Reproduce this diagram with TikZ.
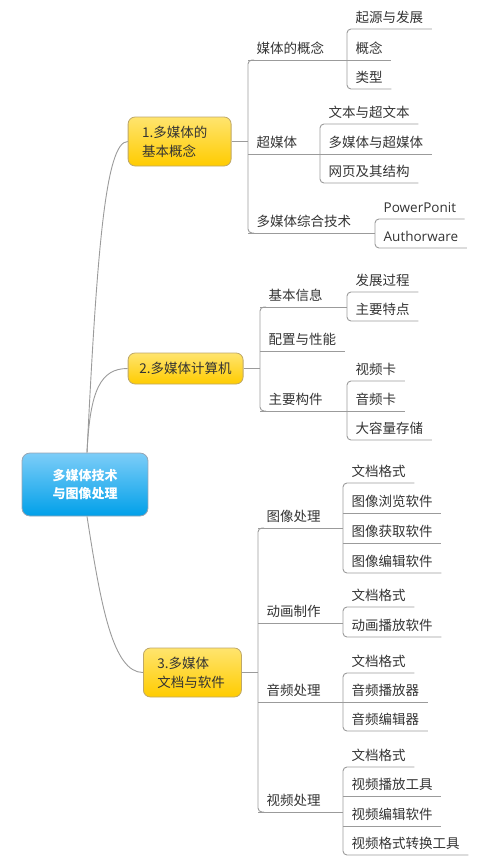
\documentclass[tikz,border=0pt]{standalone}
\usepackage{fontspec}
\setmainfont{Noto Sans CJK SC}
\newfontfamily\latinfont{Open Sans}
\usepackage{xcolor}
\usepackage{tikz}
\usetikzlibrary{positioning, calc}
\definecolor{roottop}{RGB}{125, 205, 248}
\definecolor{rootbot}{RGB}{0, 160, 233}
\definecolor{rootborder}{RGB}{150, 165, 180}
\definecolor{topictop}{RGB}{255, 228, 110}
\definecolor{topicbot}{RGB}{255, 204, 0}
\definecolor{topicborder}{RGB}{190, 168, 105}
\definecolor{textgray}{RGB}{51, 51, 51}
\definecolor{linegray}{RGB}{155, 155, 155}
\tikzset{
  rootblock/.style={
    rectangle, rounded corners=8pt, draw=rootborder, line width=0.8pt,
    top color=roottop, bottom color=rootbot, text=white,
    font=\fontsize{13}{17.5}\selectfont\bfseries, align=center,
    minimum width=126pt, minimum height=63pt
  },
  topicblock/.style={
    rectangle, rounded corners=7pt, draw=topicborder, line width=0.8pt,
    top color=topictop, bottom color=topicbot, text=textgray,
    font=\fontsize{13.5}{19}\selectfont, anchor=west,
    inner xsep=14pt, align=left, minimum height=49pt
  },
  subitem/.style={
    anchor=south west, inner xsep=8.5pt, inner ysep=3pt,
    text height=10pt, text depth=3pt, text=textgray,
    font=\fontsize{13.5}{16}\selectfont
  },
  branchline/.style={draw=linegray, line width=0.9pt},
  bracketline/.style={branchline, rounded corners=4pt}
}

\begin{document}
\begin{tikzpicture}[x=1pt, y=-1pt]

  \useasboundingbox (0,0) rectangle (485,868);

  % Central topic
  \node[rootblock] (root) at (85,484.5) {多媒体技术\\与图像处理};

  % Main topics
  \node[topicblock, text width=75pt] (t1) at (127.7,141.5) {1.多媒体的\\基本概念};
  \node[topicblock, text width=94pt, inner xsep=10.5pt, align=center, minimum height=31pt] (t2) at (127.7,368.5) {2.多媒体计算机};
  \node[topicblock, text width=70pt] (t3) at (143,672.5) {3.多媒体\\文档与软件};

  % Topic 1 branches
  \node[subitem] (m11) at (248,60) {媒体的概念};
  \node[subitem] (l111) at (347,29) {起源与发展};
  \node[subitem] (l112) at (347,60) {概念};
  \node[subitem] (l113) at (347,89) {类型};
  \node[subitem] (m12) at (248,154) {超媒体};
  \node[subitem] (l121) at (320,124) {文本与超文本};
  \node[subitem] (l122) at (320,154) {多媒体与超媒体};
  \node[subitem] (l123) at (320,183) {网页及其结构};
  \node[subitem] (m13) at (248,233) {多媒体综合技术};
  \node[subitem] (l131) at (375,219) {\latinfont PowerPonit};
  \node[subitem] (l132) at (375,248) {\latinfont Authorware};

  % Topic 2 branches
  \node[subitem] (m21) at (260,307) {基本信息};
  \node[subitem] (l211) at (347,292) {发展过程};
  \node[subitem] (l212) at (347,321) {主要特点};
  \node[subitem] (m22) at (260,351) {配置与性能};
  \node[subitem] (m23) at (260,411) {主要构件};
  \node[subitem] (l231) at (347,381) {视频卡};
  \node[subitem] (l232) at (347,411) {音频卡};
  \node[subitem] (l233) at (347,440) {大容量存储};

  % Topic 3 branches
  \node[subitem] (m31) at (258,528) {图像处理};
  \node[subitem] (l311) at (343,483) {文档格式};
  \node[subitem] (l312) at (343,513) {图像浏览软件};
  \node[subitem] (l313) at (343,543) {图像获取软件};
  \node[subitem] (l314) at (343,573) {图像编辑软件};
  \node[subitem] (m32) at (258,623) {动画制作};
  \node[subitem] (l321) at (343,607) {文档格式};
  \node[subitem] (l322) at (343,637) {动画播放软件};
  \node[subitem] (m33) at (258,702) {音频处理};
  \node[subitem] (l331) at (343,673) {文档格式};
  \node[subitem] (l332) at (343,702) {音频播放器};
  \node[subitem] (l333) at (343,731) {音频编辑器};
  \node[subitem] (m34) at (258,812) {视频处理};
  \node[subitem] (l341) at (343,767) {文档格式};
  \node[subitem] (l342) at (343,796) {视频播放工具};
  \node[subitem] (l343) at (343,826) {视频编辑软件};
  \node[subitem] (l344) at (343,855) {视频格式转换工具};

  % Root to main topics
  \draw[branchline] ($(root.north)+(2,0)$) .. controls +(10,-203) and +(-22,0) .. (t1.west);
  \draw[branchline] ($(root.north)+(2,0)$) .. controls +(3,-63) and +(-27,0) .. (t2.west);
  \draw[branchline] ($(root.south)+(2,0)$) .. controls +(14,90) and +(-30,0) .. (t3.west);

  % Topic 1 connectors
  \draw[branchline] (t1.east) -- (t1.east -| m11.south west);
  \draw[bracketline] ($(m11.south west)+(6,0)$) -- (m11.south west) -- (m13.south west) -- ++(6,0);
  \draw[branchline] (m11.south west) -- (m11.south west -| l111.south west);
  \draw[bracketline] (l111.south east) -- (l111.south west) -- (l113.south west) -- (l113.south east);
  \draw[branchline] (l112.south west) -- (l112.south east);
  \draw[branchline] (m12.south west) -- (m12.south west -| l121.south west);
  \draw[bracketline] (l121.south east) -- (l121.south west) -- (l123.south west) -- (l123.south east);
  \draw[branchline] (l122.south west) -- (l122.south east);
  \draw[branchline] (m13.south west) -- (m13.south west -| l131.south west);
  \draw[bracketline] (l131.south east) -- (l131.south west) -- (l132.south west) -- (l132.south east);

  % Topic 2 connectors
  \draw[branchline] (t2.east) -- (t2.east -| m21.south west);
  \draw[bracketline] ($(m21.south west)+(6,0)$) -- (m21.south west) -- (m23.south west) -- ++(6,0);
  \draw[branchline] (m21.south west) -- (m21.south west -| l211.south west);
  \draw[bracketline] (l211.south east) -- (l211.south west) -- (l212.south west) -- (l212.south east);
  \draw[branchline] (m22.south west) -- (m22.south east);
  \draw[branchline] (m23.south west) -- (m23.south west -| l231.south west);
  \draw[bracketline] (l231.south east) -- (l231.south west) -- (l233.south west) -- (l233.south east);
  \draw[branchline] (l232.south west) -- (l232.south east);

  % Topic 3 connectors
  \draw[branchline] (t3.east) -- (t3.east -| m31.south west);
  \draw[bracketline] ($(m31.south west)+(6,0)$) -- (m31.south west) -- (m34.south west) -- ++(6,0);
  \draw[branchline] (m31.south west) -- (m31.south west -| l311.south west);
  \draw[bracketline] (l311.south east) -- (l311.south west) -- (l314.south west) -- (l314.south east);
  \draw[branchline] (l312.south west) -- (l312.south east);
  \draw[branchline] (l313.south west) -- (l313.south east);
  \draw[branchline] (m32.south west) -- (m32.south west -| l321.south west);
  \draw[bracketline] (l321.south east) -- (l321.south west) -- (l322.south west) -- (l322.south east);
  \draw[branchline] (m33.south west) -- (m33.south west -| l331.south west);
  \draw[bracketline] (l331.south east) -- (l331.south west) -- (l333.south west) -- (l333.south east);
  \draw[branchline] (l332.south west) -- (l332.south east);
  \draw[branchline] (m34.south west) -- (m34.south west -| l341.south west);
  \draw[bracketline] (l341.south east) -- (l341.south west) -- (l344.south west) -- (l344.south east);
  \draw[branchline] (l342.south west) -- (l342.south east);
  \draw[branchline] (l343.south west) -- (l343.south east);

\end{tikzpicture}
\end{document}
